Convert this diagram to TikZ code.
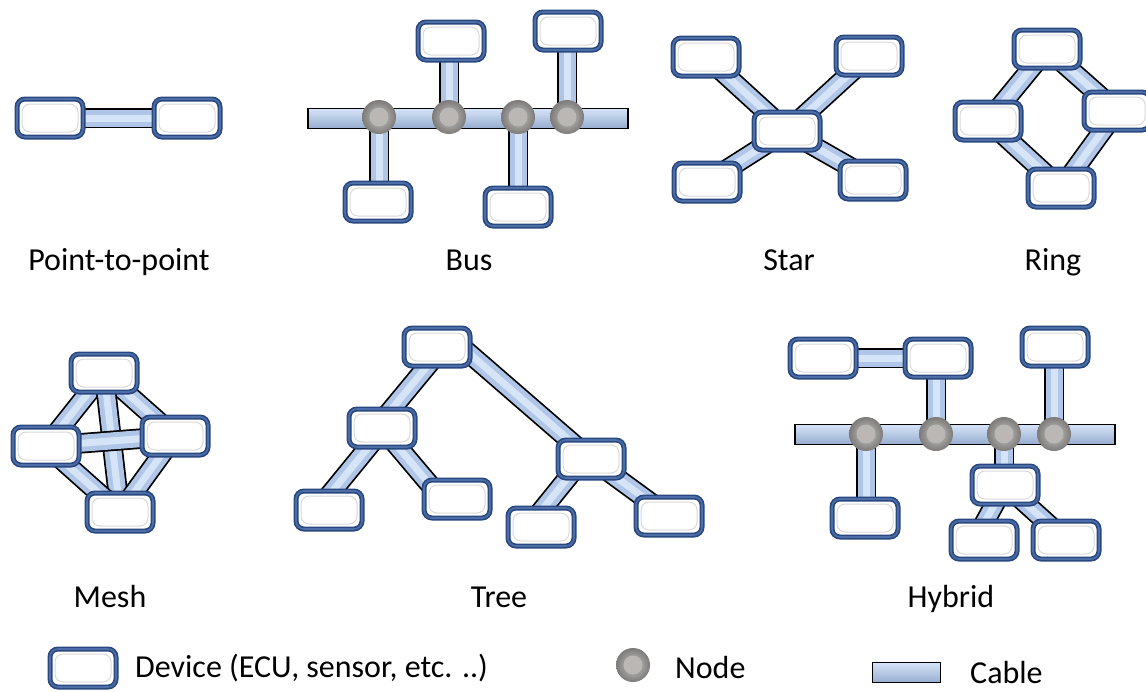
\documentclass[tikz,border=0pt]{standalone}
\usepackage{fontspec}
\setmainfont{Carlito}
\usetikzlibrary{backgrounds,calc}
\definecolor{devborder}{RGB}{42,72,128}
\definecolor{devrim}{RGB}{78,110,168}
\definecolor{cablefill}{RGB}{176,198,232}
\definecolor{cablelight}{RGB}{214,228,248}
\definecolor{cabledark}{RGB}{150,172,206}
\definecolor{nodeinner}{RGB}{200,197,194}
\definecolor{nodeouter}{RGB}{125,123,121}
\definecolor{nodecore}{RGB}{186,183,180}
\begin{document}
\begin{tikzpicture}[x=1pt,y=-1pt,
  device/.style={rectangle, rounded corners=8pt, draw=devborder, line width=5pt,
    fill=white, minimum width=66pt, minimum height=38pt, inner sep=0pt,
    postaction={draw=devrim, line width=1.6pt},
    path picture={\draw[gray!30, line width=1pt]
      ([shift={(5pt,5pt)}]path picture bounding box.south west) rectangle
      ([shift={(-5pt,-5pt)}]path picture bounding box.north east);}},
  busnode/.style={circle, minimum size=34pt, inner sep=0pt, shading=radial,
    inner color=nodeinner, outer color=nodeouter,
    path picture={\draw[gray!55, line width=0.9pt, fill=nodecore]
      (path picture bounding box.center) circle (9pt);}},
  busbar/.style={rectangle, draw=black, line width=1.8pt, minimum width=320pt,
    minimum height=20pt, inner sep=0pt, top color=cablelight, bottom color=cabledark},
  cable/.style={draw=cablefill, line width=17pt,
    preaction={draw=black, line width=20.5pt},
    postaction={draw=cablelight, line width=7pt}},
  lbl/.style={font=\fontsize{32}{38}\selectfont, anchor=base, inner sep=0pt}
]
\clip (0,0) rectangle (1146,691);

% ---------- Point-to-point
\node[device] (p1) at (50,118) {};
\node[device] (p2) at (187,118) {};

% ---------- Bus
\node[busnode] (b1) at (379,117) {};
\node[busnode] (b2) at (449,117) {};
\node[busnode] (b3) at (518,117) {};
\node[busnode] (b4) at (567,117) {};
\node[device] (bt1) at (451,41) {};
\node[device] (bt2) at (568,31) {};
\node[device] (bb1) at (378,202) {};
\node[device] (bb2) at (518,207) {};

% ---------- Star
\node[device] (sc) at (787,131) {};
\node[device] (s1) at (706,57) {};
\node[device] (s2) at (869,56) {};
\node[device] (s3) at (707,182) {};
\node[device] (s4) at (873,180) {};

% ---------- Ring
\node[device] (r1) at (1047,49) {};
\node[device] (r2) at (988,121) {};
\node[device] (r3) at (1117,111) {};
\node[device] (r4) at (1061,188) {};

% ---------- Mesh
\node[device] (m1) at (104,373) {};
\node[device] (m2) at (46,446) {};
\node[device] (m3) at (175,436) {};
\node[device] (m4) at (120,512) {};

% ---------- Tree
\node[device] (t0) at (437,347) {};
\node[device] (t1) at (382,428) {};
\node[device] (t2) at (591,459) {};
\node[device] (t3) at (329,510) {};
\node[device] (t4) at (457,499) {};
\node[device] (t5) at (541,527) {};
\node[device] (t6) at (669,516) {};

% ---------- Hybrid
\node[busnode] (hn1) at (866,434) {};
\node[busnode] (hn2) at (936,434) {};
\node[busnode] (hn3) at (1004,434) {};
\node[busnode] (hn4) at (1054,434) {};
\node[device] (hd1) at (823,358) {};
\node[device] (hd2) at (938,358) {};
\node[device] (hd3) at (1055,347) {};
\node[device] (hd4) at (865,518) {};
\node[device] (hd5) at (1005,485) {};
\node[device] (hd6) at (984,540) {};
\node[device] (hd7) at (1066,540) {};

% ---------- Labels
\node[lbl] (lp2p) at (119,270) {Point-to-point};
\node[lbl] (lbus) at (469,270) {Bus};
\node[lbl] (lstar) at (789,270) {Star};
\node[lbl] (lring) at (1053,270) {Ring};
\node[lbl] (lmesh) at (110,607) {Mesh};
\node[lbl] (ltree) at (499,607) {Tree};
\node[lbl] (lhyb) at (951,607) {Hybrid};

% ---------- Legend
\node[device] (ldev) at (83,668) {};
\node[lbl, anchor=base west] (ldevt) at (135,677) {Device (ECU, sensor, etc. ..)};
\node[busnode] (lnode) at (633,665) {};
\node[lbl, anchor=base west] (lnodet) at (675,678) {Node};
\node[rectangle, draw=black, line width=1.8pt, minimum width=68pt, minimum height=20pt,
  inner sep=0pt, top color=cablelight, bottom color=cabledark] (lcab) at (906.5,672.5) {};
\node[lbl, anchor=base west] (lcabt) at (970,683) {Cable};

\begin{pgfonlayer}{background}
  % bus bars
  \node[busbar] (bar1) at (468,118.5) {};
  \node[busbar] (bar2) at (955,434.5) {};
  % point-to-point
  \path[cable] (p1.center) -- (p2.center);
  % bus
  \path[cable] (b1.center) -- (b1.center |- bb1.center);
  \path[cable] (b2.center) -- (b2.center |- bt1.center);
  \path[cable] (b3.center) -- (b3.center |- bb2.center);
  \path[cable] (b4.center) -- (b4.center |- bt2.center);
  % star
  \path[cable] (sc.center) -- (s1.center);
  \path[cable] (sc.center) -- (s2.center);
  \path[cable] (sc.center) -- (s3.center);
  \path[cable] (sc.center) -- (s4.center);
  % ring
  \path[cable] (r1.center) -- (r2.center);
  \path[cable] (r1.center) -- (r3.center);
  \path[cable] (r2.center) -- (r4.center);
  \path[cable] (r3.center) -- (r4.center);
  % mesh
  \path[cable] (m1.center) -- (m2.center);
  \path[cable] (m1.center) -- (m3.center);
  \path[cable] (m1.center) -- (m4.center);
  \path[cable] (m2.center) -- (m3.center);
  \path[cable] (m2.center) -- (m4.center);
  \path[cable] (m3.center) -- (m4.center);
  % tree
  \path[cable] ([xshift=6pt]t0.center) -- ([xshift=-6pt]t1.center);
  \path[cable] ($(t0.north)!0.12!(t2.center)$) -- (t2.center);
  \path[cable] ([xshift=2pt]t1.center) -- ([xshift=-12pt]t3.center);
  \path[cable] (t1.center) -- ([xshift=-15pt]t4.center);
  \path[cable] ([xshift=-8pt]t2.center) -- ([xshift=-13pt]t5.center);
  \path[cable] (t2.center) -- (t6.center);
  % hybrid
  \path[cable] (hd1.center) -- (hd2.center);
  \path[cable] (hn1.center) -- (hn1.center |- hd4.center);
  \path[cable] (hn2.center) -- (hn2.center |- hd2.center);
  \path[cable] (hn3.center) -- (hn3.center |- hd5.center);
  \path[cable] (hn4.center) -- (hn4.center |- hd3.center);
  \path[cable] (hd5.center) -- ([xshift=-9pt]hd6.center);
  \path[cable] (hd5.center) -- (hd7.center);
\end{pgfonlayer}
\end{tikzpicture}
\end{document}
